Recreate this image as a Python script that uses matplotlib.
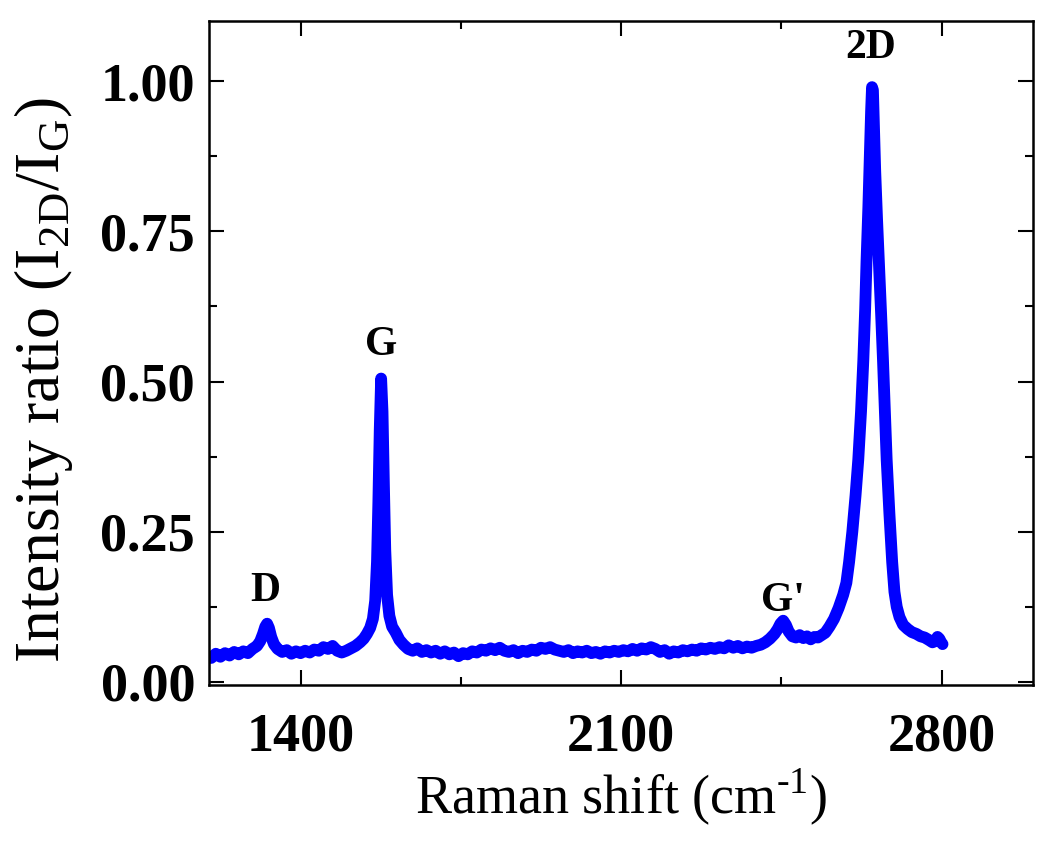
import matplotlib.pyplot as plt
from matplotlib.ticker import MultipleLocator

plt.rcParams['font.family'] = ['Liberation Serif', 'DejaVu Serif']
plt.rcParams['mathtext.fontset'] = 'custom'
plt.rcParams['mathtext.rm'] = 'Liberation Serif'

# Raman shift (cm-1)
raman_shift = [
    1205, 1215, 1225, 1235, 1245, 1255, 1265, 1275, 1285, 1295,
    1305, 1312, 1318, 1323, 1327, 1331, 1336, 1342, 1350, 1360,
    1370, 1380, 1390, 1400, 1410, 1420, 1430, 1440, 1450, 1460,
    1470, 1480, 1490, 1500, 1510, 1520, 1530, 1538, 1545, 1552,
    1558, 1563, 1567, 1570, 1573, 1576, 1579, 1582, 1585, 1589,
    1594, 1600, 1608, 1616, 1625, 1635, 1645, 1655, 1665, 1675,
    1685, 1695, 1705, 1715, 1725, 1735, 1745, 1755, 1765, 1775,
    1785, 1795, 1805, 1815, 1825, 1835, 1845, 1855, 1865, 1875,
    1885, 1895, 1905, 1915, 1925, 1935, 1945, 1955, 1965, 1975,
    1985, 1995, 2005, 2015, 2025, 2035, 2045, 2055, 2065, 2075,
    2085, 2095, 2105, 2115, 2125, 2135, 2145, 2155, 2165, 2175,
    2185, 2195, 2205, 2215, 2225, 2235, 2245, 2255, 2265, 2275,
    2285, 2295, 2305, 2315, 2325, 2335, 2345, 2355, 2365, 2375,
    2385, 2395, 2405, 2415, 2425, 2435, 2442, 2448, 2454, 2460,
    2466, 2474, 2482, 2490, 2498, 2506, 2514, 2522, 2530, 2538,
    2546, 2555, 2565, 2575, 2585, 2592, 2598, 2605, 2612, 2618,
    2624, 2629, 2633, 2636, 2640, 2643, 2646, 2648, 2650, 2652,
    2655, 2659, 2663, 2668, 2672, 2676, 2680, 2686, 2692, 2697,
    2702, 2708, 2716, 2726, 2735, 2745, 2754, 2763, 2772, 2780,
    2786, 2791, 2795, 2799, 2802,
]
# intensity ratio I2D/IG
intensity = [
    0.040, 0.047, 0.042, 0.048, 0.044, 0.050, 0.046, 0.051, 0.048, 0.055,
    0.060, 0.068, 0.080, 0.092, 0.097, 0.090, 0.075, 0.063, 0.055, 0.050,
    0.053, 0.047, 0.051, 0.048, 0.052, 0.049, 0.054, 0.052, 0.058, 0.055,
    0.060, 0.052, 0.049, 0.052, 0.056, 0.060, 0.066, 0.072, 0.080, 0.090,
    0.105, 0.135, 0.200, 0.300, 0.420, 0.505, 0.450, 0.330, 0.220, 0.145,
    0.110, 0.092, 0.082, 0.070, 0.062, 0.055, 0.052, 0.056, 0.050, 0.053,
    0.049, 0.052, 0.047, 0.051, 0.046, 0.049, 0.043, 0.048, 0.046, 0.051,
    0.049, 0.054, 0.052, 0.056, 0.053, 0.057, 0.052, 0.050, 0.053, 0.048,
    0.052, 0.050, 0.054, 0.052, 0.057, 0.055, 0.058, 0.054, 0.052, 0.050,
    0.053, 0.048, 0.051, 0.049, 0.052, 0.048, 0.050, 0.047, 0.051, 0.049,
    0.052, 0.050, 0.053, 0.051, 0.055, 0.052, 0.056, 0.054, 0.058, 0.055,
    0.050, 0.053, 0.047, 0.051, 0.049, 0.053, 0.051, 0.054, 0.052, 0.056,
    0.054, 0.057, 0.055, 0.058, 0.056, 0.061, 0.057, 0.060, 0.056, 0.059,
    0.057, 0.060, 0.062, 0.066, 0.072, 0.080, 0.088, 0.097, 0.102, 0.095,
    0.084, 0.076, 0.074, 0.078, 0.073, 0.076, 0.071, 0.075, 0.074, 0.078,
    0.082, 0.092, 0.105, 0.123, 0.145, 0.165, 0.200, 0.250, 0.310, 0.370,
    0.450, 0.535, 0.620, 0.700, 0.790, 0.870, 0.950, 0.990, 0.985, 0.930,
    0.850, 0.770, 0.700, 0.610, 0.535, 0.450, 0.370, 0.280, 0.200, 0.150,
    0.125, 0.108, 0.095, 0.088, 0.083, 0.080, 0.076, 0.074, 0.070, 0.066,
    0.068, 0.075, 0.072, 0.066, 0.063,
]

# peak labels
peak_names = ['D', 'G', "G'", '2D']
peak_x = [1323, 1575, 2454, 2645]
peak_y = [0.152, 0.56, 0.135, 1.055]

fig = plt.figure(figsize=(10.5, 8.41), dpi=100)
ax = fig.add_axes([0.199, 0.1855, 0.785, 0.7895])

ax.plot(raman_shift, intensity, color='#0000ff', lw=8.5,
        solid_joinstyle='round', solid_capstyle='round')

for name, px, py in zip(peak_names, peak_x, peak_y):
    ax.text(px, py, name, ha='center', va='center',
            fontsize=30, fontweight='bold')

ax.set_xlim(1200, 3000)
ax.set_ylim(-0.005, 1.10)
ax.xaxis.set_major_locator(MultipleLocator(700))
ax.xaxis.set_minor_locator(MultipleLocator(350))
ax.yaxis.set_major_locator(MultipleLocator(0.25))
ax.yaxis.set_minor_locator(MultipleLocator(0.125))
ax.yaxis.set_major_formatter(plt.FormatStrFormatter('%.2f'))

ax.tick_params(which='both', direction='in', top=True, right=True,
               width=1.5, labelsize=39)
ax.tick_params(which='major', length=11)
ax.tick_params(which='minor', length=6)
ax.tick_params(axis='x', pad=20)
ax.tick_params(axis='y', pad=10)
for lab in ax.get_xticklabels() + ax.get_yticklabels():
    lab.set_fontweight('bold')
for sp in ax.spines.values():
    sp.set_linewidth(1.8)

ax.set_xlabel('Raman shift (cm$^{\\mathregular{\u2010}1}$)', fontsize=39, labelpad=2)
ax.set_ylabel(r'Intensity ratio (I$_{\mathregular{2D}}$/I$_{\mathregular{G}}$)',
              fontsize=46)
ax.yaxis.set_label_coords(-0.162, 0.46)

fig.savefig('out.png', dpi=100, facecolor='white')
